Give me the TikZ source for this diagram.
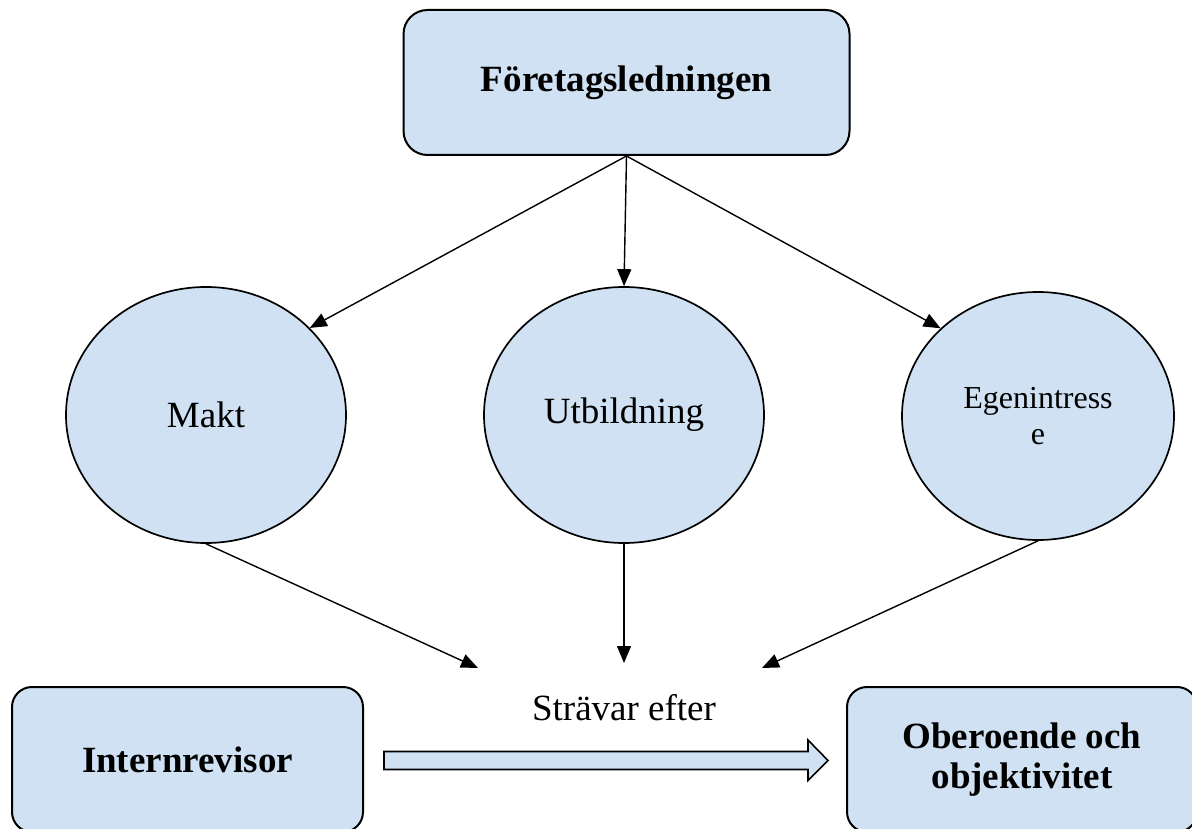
\documentclass[tikz,border=0pt]{standalone}
\usepackage{fontspec}
\setmainfont{Liberation Serif}
\usetikzlibrary{arrows.meta,shapes.geometric,calc}
\definecolor{boxblue}{RGB}{207,225,242}
\begin{document}
\begin{tikzpicture}[x=1pt,y=-1pt,
  rbox/.style={draw=black,line width=2pt,fill=boxblue,rounded corners=24pt,font=\fontsize{37}{40}\selectfont\bfseries,align=center,inner sep=0pt},
  oval/.style={draw=black,line width=1.7pt,fill=boxblue,ellipse,inner sep=0pt,align=center},
  conn/.style={line width=1.4pt,-{Triangle[length=17pt,width=14pt]}}]
\useasboundingbox (0,0) rectangle (1192,829);
\node[rbox,minimum width=446pt,minimum height=145pt] (top) at (626.5,82.5) {\raisebox{-5pt}{Företagsledningen}};
\node[oval,minimum width=280pt,minimum height=256pt,font=\fontsize{37}{42}\selectfont] (makt) at (206,415) {Makt};
\node[oval,minimum width=280pt,minimum height=256pt,font=\fontsize{37}{42}\selectfont] (utb) at (624,415) {Utbildning};
\node[oval,minimum width=272pt,minimum height=248pt,font=\fontsize{32}{36}\selectfont] (egen) at (1038,416) {Egenintress\\e};
\node[font=\fontsize{37}{42}\selectfont,inner sep=0pt] (strav) at (624,708) {Strävar efter};
\node[rbox,rounded corners=20pt,minimum width=351pt,minimum height=145pt] (intern) at (187.5,759.5) {Internrevisor};
\node[rbox,rounded corners=20pt,minimum width=350pt,minimum height=145pt] (ober) at (1022,759.5) {\raisebox{-5pt}{\parbox{300pt}{\centering Oberoende och\\objektivitet}}};
\coordinate (sL) at (478,668);
\coordinate (sM) at (624,663);
\coordinate (sR) at (762,668);
\draw[conn] (top.south) -- (makt.40);
\draw[conn] (top.south) -- (utb.north);
\draw[conn] (top.south) -- (egen.138);
\draw[conn] (makt.south) -- (sL);
\draw[conn] (utb.south) -- (sM);
\draw[conn] (egen.south) -- (sR);
\draw[line width=1.6pt,fill=boxblue] ($(intern.east)+(20,-8)$) -- (808,751.5) -- (808,740) -- (828,760.5) -- (808,780.5) -- (808,769.5) -- ($(intern.east)+(20,10)$) -- cycle;
\end{tikzpicture}
\end{document}
